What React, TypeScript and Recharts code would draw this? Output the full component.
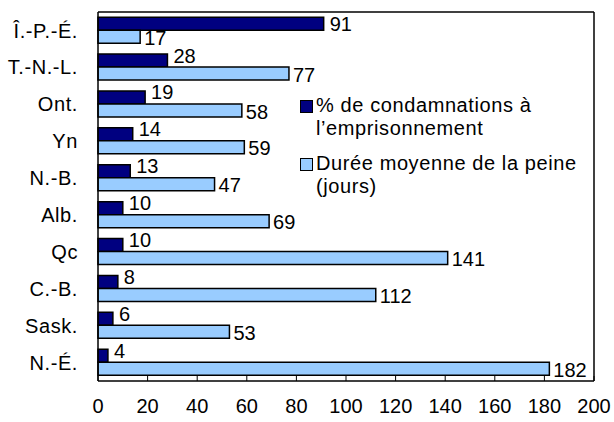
import { BarChart, Bar, XAxis, YAxis, LabelList } from "recharts";

// Provinces / territoires, de haut en bas
const provinces = ["Î.-P.-É.", "T.-N.-L.", "Ont.", "Yn", "N.-B.", "Alb.", "Qc", "C.-B.", "Sask.", "N.-É."];
const pctPrison = [91, 28, 19, 14, 13, 10, 10, 8, 6, 4];
const dureeMoyenne = [17, 77, 58, 59, 47, 69, 141, 112, 53, 182];
const xTicks = [0, 20, 40, 60, 80, 100, 120, 140, 160, 180, 200];

const DARK = "#000080";
const LIGHT = "#99CCFF";
const FONT = "'Liberation Sans', Arial, sans-serif";

const data = provinces.map((p, i) => ({
  province: p,
  pct: pctPrison[i],
  duree: dureeMoyenne[i],
}));

const legendItems = [
  { color: DARK, lines: ["% de condamnations à", "l’emprisonnement"] },
  { color: LIGHT, lines: ["Durée moyenne de la peine", "(jours)"] },
];

const labelStyle = { fill: "#000", fontSize: 20, fontFamily: FONT };

// dark labels sit a little higher, except when the dark bar is the longer one
const PctLabel = (props: any) => {
  const { x, y, width, height, value, index } = props;
  const raise = pctPrison[index] > dureeMoyenne[index] ? 0 : -5;
  return (
    <text
      x={x + width + 6}
      y={y + height / 2 + raise}
      dominantBaseline="central"
      textAnchor="start"
      {...labelStyle}
    >
      {value}
    </text>
  );
};

const LegendBox = () => (
  <div
    style={{
      position: "absolute",
      left: 300,
      top: 94,
      fontFamily: FONT,
      fontSize: 20,
      letterSpacing: 0.6,
      color: "#000",
      lineHeight: "23px",
      whiteSpace: "nowrap",
    }}
  >
    {legendItems.map((item, i) => (
      <div key={i} style={{ display: "flex", alignItems: "flex-start", marginBottom: i === 0 ? 12 : 0 }}>
        <div
          style={{
            width: 11,
            height: 11,
            background: item.color,
            border: "1px solid #000",
            marginTop: 6,
            marginRight: 3,
            flexShrink: 0,
          }}
        />
        <div>
          {item.lines.map((l, j) => (
            <div key={j}>{l}</div>
          ))}
        </div>
      </div>
    ))}
  </div>
);

export default function App() {
  return (
    <div style={{ position: "absolute", left: 0, top: 0, width: 614, height: 422 }}>
      <BarChart
        width={614}
        height={422}
        data={data}
        layout="vertical"
        margin={{ top: 11, right: 19, bottom: 11, left: 7 }}
        barCategoryGap="14%"
        barGap={0}
      >
        <XAxis
          type="number"
          domain={[0, 200]}
          ticks={xTicks}
          interval={0}
          height={30}
          tickSize={-5}
          tickMargin={23}
          axisLine={{ stroke: "#000", strokeWidth: 1.5 }}
          tickLine={{ stroke: "#000" }}
          tick={{ fill: "#000", fontSize: 20, fontFamily: FONT }}
        />
        <XAxis
          xAxisId="top"
          orientation="top"
          type="number"
          domain={[0, 200]}
          height={1}
          tick={false}
          tickLine={false}
          axisLine={{ stroke: "#000", strokeWidth: 1.5 }}
        />
        <YAxis
          type="category"
          dataKey="province"
          width={91}
          tickLine={false}
          tickMargin={14}
          axisLine={{ stroke: "#000", strokeWidth: 1.5 }}
          tick={{ fill: "#000", fontSize: 20, fontFamily: FONT, letterSpacing: 0.6 }}
        />
        <YAxis
          yAxisId="right"
          orientation="right"
          type="number"
          domain={[0, 1]}
          width={1}
          tick={false}
          tickLine={false}
          axisLine={{ stroke: "#000", strokeWidth: 1.5 }}
        />
        <Bar dataKey="pct" fill={DARK} stroke="#000" strokeWidth={1.5} isAnimationActive={false}>
          <LabelList dataKey="pct" content={PctLabel} />
        </Bar>
        <Bar dataKey="duree" fill={LIGHT} stroke="#000" strokeWidth={1.5} isAnimationActive={false}>
          <LabelList dataKey="duree" position="right" offset={4} dy={1} style={labelStyle} />
        </Bar>
      </BarChart>
      <LegendBox />
    </div>
  );
}
